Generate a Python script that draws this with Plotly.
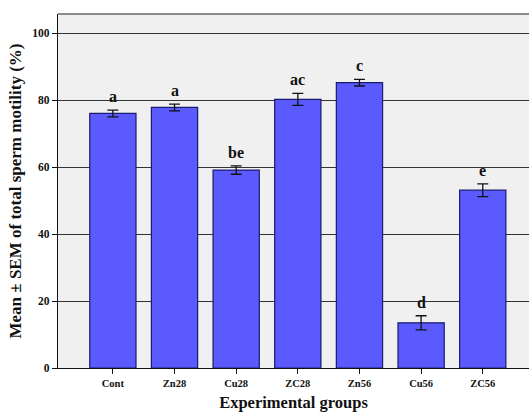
import plotly.graph_objects as go

groups = ["Cont", "Zn28", "Cu28", "ZC28", "Zn56", "Cu56", "ZC56"]
means = [76.0, 77.8, 59.1, 80.2, 85.2, 13.5, 53.1]
sems = [1.0, 1.0, 1.25, 1.8, 1.0, 2.1, 1.9]
letters = ["a", "a", "be", "ac", "c", "d", "e"]
y_ticks = [0, 20, 40, 60, 80, 100]

font_family = "Liberation Serif"

fig = go.Figure()
fig.add_trace(go.Bar(
    x=groups, y=means,
    width=0.75,
    marker=dict(color="#5a5aff", line=dict(color="#1a1a6e", width=1.2)),
    error_y=dict(type="data", array=sems, visible=True, color="#111111",
                 thickness=1.3, width=5.5),
    showlegend=False,
))

for g, m, s, l in zip(groups, means, sems, letters):
    fig.add_annotation(x=g, y=m + s, text=f"<b>{l}</b>", showarrow=False,
                       yanchor="bottom", yshift=3,
                       font=dict(family=font_family, size=16, color="#111111"))

fig.add_shape(type="line", xref="paper", yref="paper", x0=0, x1=1, y0=1, y1=1,
              line=dict(color="#8c8c8c", width=2))

fig.update_layout(
    width=529, height=412,
    margin=dict(l=58, r=0, t=14, b=44),
    paper_bgcolor="white",
    plot_bgcolor="#f0f0f0",
    font=dict(family=font_family, color="#111111"),
    xaxis=dict(
        range=[-0.89, 6.75],
        showgrid=False,
        showline=True, linecolor="#111111", linewidth=1.2,
        ticks="outside", ticklen=5, tickcolor="#111111",
        tickfont=dict(family=font_family, size=10.5, weight="bold"),
        title=dict(text="<b>Experimental groups</b>",
                   font=dict(family=font_family, size=16.5), standoff=9),
    ),
    yaxis=dict(
        range=[0, 105.7],
        tickvals=y_ticks,
        showgrid=True, gridcolor="#333333", gridwidth=1,
        zeroline=False,
        showline=True, linecolor="#111111", linewidth=1.2,
        ticks="outside", ticklen=5, tickcolor="#111111",
        tickfont=dict(family=font_family, size=11.5, weight="bold"),
        title=dict(text="<b>Mean ± SEM of total sperm motility (%)</b>",
                   font=dict(family=font_family, size=17), standoff=6),
    ),
)

fig.write_html("out.html")
